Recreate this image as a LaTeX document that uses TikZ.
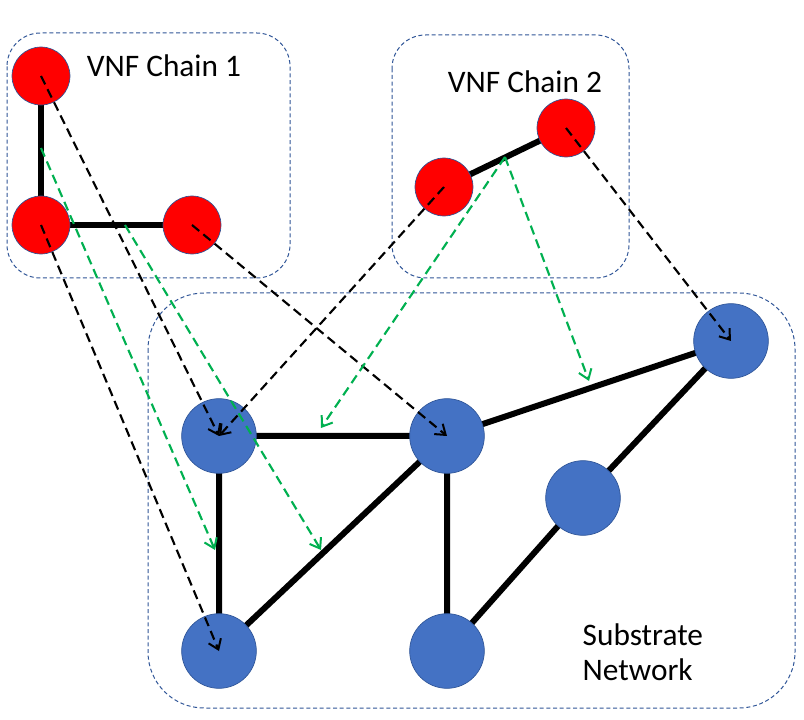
\documentclass[tikz,border=0pt]{standalone}
\usepackage{fontspec}
\setmainfont{Carlito}
\usetikzlibrary{arrows.meta,calc}
\definecolor{vnfred}{RGB}{255,0,0}
\definecolor{subblue}{RGB}{68,114,196}
\definecolor{rimblue}{RGB}{47,85,151}
\definecolor{mapgreen}{RGB}{0,176,80}

\begin{document}
\begin{tikzpicture}[x=0.75pt,y=-0.75pt,
  vnf/.style={circle,fill=vnfred,draw=rimblue,line width=0.5pt,minimum size=43.5pt,inner sep=0pt},
  sub/.style={circle,fill=subblue,draw=rimblue,line width=0.5pt,minimum size=56pt,inner sep=0pt},
  link/.style={line width=4.5pt},
  frame/.style={draw=rimblue,line width=0.75pt,dash pattern=on 3pt off 2pt,rounded corners=#1},
  frame/.default=25pt,
  map/.style={line width=1.6pt,dash pattern=on 7pt off 4pt,-{Straight Barb[length=7pt,width=10pt,line width=1.5pt]}},
  lbl/.style={font=\fontsize{23.5}{26.5}\selectfont,align=left}]

\useasboundingbox (0,0) rectangle (804,720);

%frames
\draw[frame] (7,33) rectangle (290,278);
\draw[frame] (392,35) rectangle (629,278);
\draw[frame=42pt] (148,293) rectangle (795,708);

\node[lbl,anchor=base] at (164,77) {VNF Chain 1};
\node[lbl,anchor=base] at (525,93) {VNF Chain 2};
\node[lbl,anchor=west] (T) at (578,652) {Substrate\\Network};

%VNF chain 1
\coordinate (V1) at (41,76);
\coordinate (V2) at (41,225);
\coordinate (V3) at (192,225);
%VNF chain 2
\coordinate (V4) at (444,187);
\coordinate (V5) at (566,128);
%substrate
\coordinate (S1) at (219,436);
\coordinate (S2) at (447,436);
\coordinate (S3) at (731,341);
\coordinate (S4) at (583,498);
\coordinate (S5) at (219,651);
\coordinate (S6) at (447,651);

\draw[link] (V1) -- (V2) -- (V3);
\draw[link] (V4) -- (V5);
\draw[link] (S1) -- (S2) -- (S3);
\draw[link] (S1) -- (S5) -- (S2) -- (S6) -- (S4) -- (S3);

\node[vnf] (A) at (V1) {};
\node[vnf] (B) at (V2) {};
\node[vnf] (C) at (V3) {};
\node[vnf] (D) at (V4) {};
\node[vnf] (E) at (V5) {};

\node[sub] (P) at (S1) {};
\node[sub] (Q) at (S2) {};
\node[sub] (R) at (S3) {};
\node[sub] (U) at (S4) {};
\node[sub] (W) at (S5) {};
\node[sub] (X) at (S6) {};

%node mapping
\draw[map] (A.center) -- (P.center);
\draw[map] (B.center) -- (W.center);
\draw[map] (C.center) -- (Q.center);
\draw[map] (D.center) -- (P.center);
\draw[map] (E.center) -- (R.center);

%link mapping
\coordinate (l1) at (41,148);
\coordinate (l2) at (125,225);
\coordinate (l3) at (505,157);
\coordinate (m1) at (215,550);
\coordinate (m2) at (321,550);
\coordinate (m3) at (321,428);
\coordinate (m4) at (589,381);
\draw[map,mapgreen] (l1) -- (m1);
\draw[map,mapgreen] (l2) -- (m2);
\draw[map,mapgreen] (l3) -- (m3);
\draw[map,mapgreen] (l3) -- (m4);
\end{tikzpicture}
\end{document}
